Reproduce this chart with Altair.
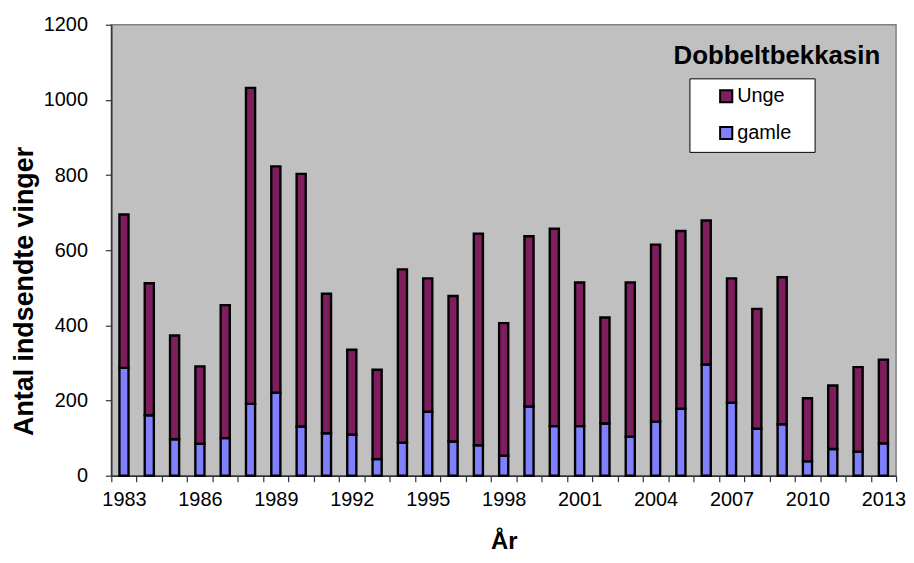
import altair as alt
import pandas as pd

years = list(range(1983, 2014))
gamle = [287, 161, 97, 85, 100, 191, 221, 131, 113, 109, 44, 88, 170, 91, 81, 53,
         184, 132, 132, 139, 104, 144, 178, 296, 194, 125, 137, 38, 71, 64, 86]
unge = [408, 351, 276, 206, 354, 841, 602, 672, 371, 226, 238, 461, 355, 387, 563, 353,
        453, 525, 382, 282, 410, 471, 473, 383, 331, 319, 391, 168, 169, 225, 223]
series_names = ["Unge", "gamle"]
series_colors = ["#7E1E5E", "#8080FF"]
y_ticks = [0, 200, 400, 600, 800, 1000, 1200]
chart_title = "Dobbeltbekkasin"
x_title = "År"
y_title = "Antal indsendte vinger"

rows = []
for yr, g, u in zip(years, gamle, unge):
    rows.append({"year": yr, "series": "gamle", "value": g, "stackorder": 0})
    rows.append({"year": yr, "series": "Unge", "value": u, "stackorder": 1})
df = pd.DataFrame(rows)

FONT = "Liberation Sans"

bars = alt.Chart(df).mark_bar(
    width=alt.RelativeBandSize(0.36), stroke="black", strokeWidth=2.4, opacity=1
).encode(
    x=alt.X(
        "year:O",
        scale=alt.Scale(paddingInner=0, paddingOuter=0),
        axis=alt.Axis(
            title=x_title,
            labelAngle=0,
            labelExpr="datum.value % 3 == 0 ? datum.label : ''",
            labelOverlap=False,
            tickBand="extent",
            tickSize=6,
            labelPadding=8,
            labelFontSize=20,
            titleFontSize=24,
            titleFontWeight="bold",
            titleBaseline="alphabetic",
            titleY=73,
        ),
    ),
    y=alt.Y(
        "value:Q",
        stack="zero",
        scale=alt.Scale(domain=[0, 1200], nice=False),
        axis=alt.Axis(
            title=y_title,
            values=y_ticks,
            format="d",
            grid=False,
            tickSize=6,
            labelPadding=18,
            labelFontSize=20,
            titleFontSize=27,
            titleFontWeight="bold",
            titleAngle=-90,
            titleBaseline="middle",
            titleAlign="center",
            titleX=-87,
            titleY=268,
        ),
    ),
    color=alt.Color(
        "series:N",
        scale=alt.Scale(domain=series_names, range=series_colors),
        legend=alt.Legend(
            title=None,
            orient="none",
            legendX=582,
            legendY=54,
            fillColor="white",
            strokeColor="black",
            padding=8,
            symbolType="square",
            symbolSize=150,
            symbolStrokeColor="black",
            symbolStrokeWidth=2,
            symbolOpacity=1,
            symbolOffset=19,
            labelFontSize=20,
            labelFont=FONT,
            labelColor="black",
            labelOffset=1,
            rowPadding=15,
            labelExpr="datum.label + '\u2800'",
        ),
    ),
    order=alt.Order("stackorder:Q", sort="ascending"),
)

title_df = pd.DataFrame({"t": [chart_title]})
title_mark = alt.Chart(title_df).mark_text(
    align="right", baseline="alphabetic", fontSize=26, fontWeight="bold", font=FONT, color="black"
).encode(x=alt.value(774), y=alt.value(40), text="t:N")

chart = alt.layer(bars, title_mark).properties(
    width=790,
    height=454,
    padding={"left": 104, "top": 15, "right": 10, "bottom": 78},
    autosize=alt.AutoSizeParams(type="none"),
    background="white",
).configure_view(
    fill="#C0C0C0", stroke="#808080", strokeWidth=1.5
).configure_axis(
    labelFont=FONT, titleFont=FONT, domainColor="#333333", tickColor="#333333",
    labelColor="black", titleColor="black", domainWidth=1.5, tickWidth=1.2
)

chart.save("out.html", embed_options={"renderer": "svg", "actions": False})
